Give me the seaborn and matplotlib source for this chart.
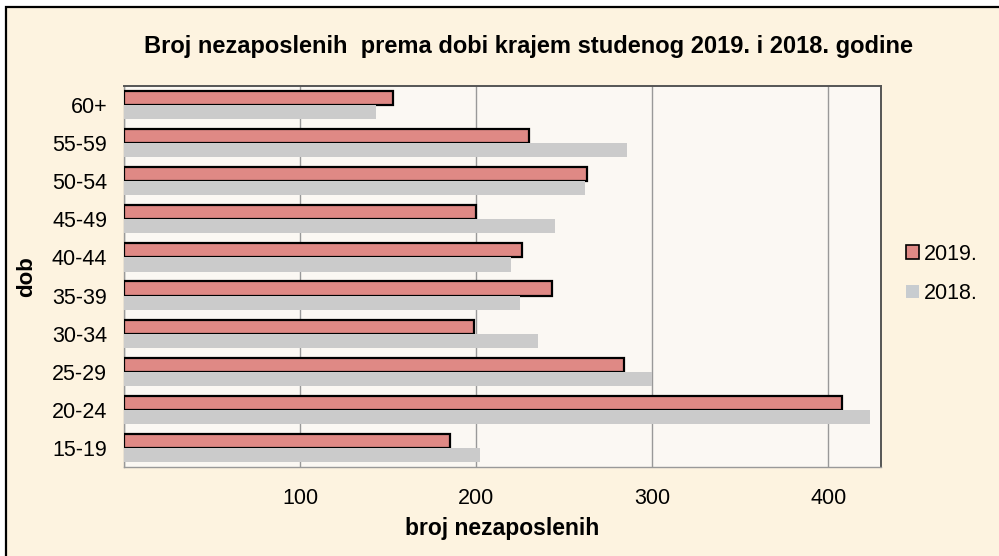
import matplotlib
matplotlib.use("Agg")
import matplotlib.pyplot as plt
import seaborn as sns
import pandas as pd
from matplotlib.patches import Patch, Rectangle

categories = ["60+", "55-59", "50-54", "45-49", "40-44", "35-39", "30-34", "25-29", "20-24", "15-19"]
values_2019 = [153, 230, 263, 200, 226, 243, 199, 284, 408, 185]
values_2018 = [143, 286, 262, 245, 220, 225, 235, 300, 424, 202]
series = ["2019.", "2018."]
xticks = [0, 100, 200, 300, 400]
xticklabels = ["", "100", "200", "300", "400"]

df = pd.DataFrame({
    "dob": categories * 2,
    "broj": values_2019 + values_2018,
    "godina": [series[0]] * len(categories) + [series[1]] * len(categories),
})

sns.set_theme(style="white")
plt.rcParams["font.family"] = ["Liberation Sans", "DejaVu Sans"]
plt.rcParams["text.color"] = "black"
plt.rcParams["axes.labelcolor"] = "black"
plt.rcParams["xtick.labelcolor"] = "black"
plt.rcParams["ytick.labelcolor"] = "black"

c2019 = "#DF8985"
c2018 = "#CBCBCB"

fig = plt.figure(figsize=(9.99, 5.56), dpi=100)
fig.patch.set_facecolor("white")
fig.patches.append(Rectangle((6 / 999, -0.01), 1.1, (556 - 7) / 556 + 0.01,
                             transform=fig.transFigure, facecolor="#FDF3E0",
                             edgecolor="black", linewidth=1.6, zorder=-10))

ax = fig.add_axes([124 / 999, (556 - 467) / 556, (881 - 124) / 999, (467 - 86) / 556])
ax.set_facecolor("#FBF8F3")

sns.barplot(data=df, x="broj", y="dob", hue="godina", order=categories,
            hue_order=series, palette=[c2019, c2018], orient="h",
            width=0.74, ax=ax, legend=False, saturation=1, zorder=3)

for bar in ax.containers[0]:
    bar.set_edgecolor("black")
    bar.set_linewidth(1.6)
for bar in ax.containers[1]:
    bar.set_linewidth(0)

ax.set_xlim(0, 430)
ax.set_xticks(xticks)
ax.set_xticklabels(xticklabels, fontsize=15.5)
ax.tick_params(axis="x", direction="out", length=7, color="#888888", width=1, pad=8)
ax.tick_params(axis="y", direction="out", length=4, color="#888888", width=1, pad=8, labelsize=15.5)
ax.xaxis.grid(True, color="#999999", linewidth=1, zorder=0)
ax.set_axisbelow(True)

for s in ["top", "right"]:
    ax.spines[s].set_color("#555555")
    ax.spines[s].set_linewidth(1.4)
for s in ["left", "bottom"]:
    ax.spines[s].set_color("#999999")
    ax.spines[s].set_linewidth(1)

ax.set_xlabel("broj nezaposlenih", fontsize=16.5, fontweight="bold")
ax.set_ylabel("dob", fontsize=16, fontweight="bold")
ax.xaxis.set_label_coords(0.5, -(528 - 467) / 381, transform=ax.transAxes)
ax.xaxis.label.set_va("center")
ax.yaxis.set_label_coords(-(124 - 27) / 757, 0.5, transform=ax.transAxes)
ax.yaxis.label.set_va("center")

fig.text(529 / 999, (556 - 47) / 556, "Broj nezaposlenih  prema dobi krajem studenog 2019. i 2018. godine",
         ha="center", va="center", fontsize=17, fontweight="bold")

handles = [Patch(facecolor=c2019, edgecolor="black", linewidth=1.2),
           Patch(facecolor="#C8CCD0", edgecolor="none")]
fig.legend(handles, series, loc="center left", bbox_to_anchor=(887 / 999, (556 - 274) / 556),
           frameon=False, fontsize=15.5, handlelength=0.6, handleheight=0.6,
           handletextpad=0.2, labelspacing=0.85)

fig.savefig("out.png", dpi=100, facecolor=fig.get_facecolor())
